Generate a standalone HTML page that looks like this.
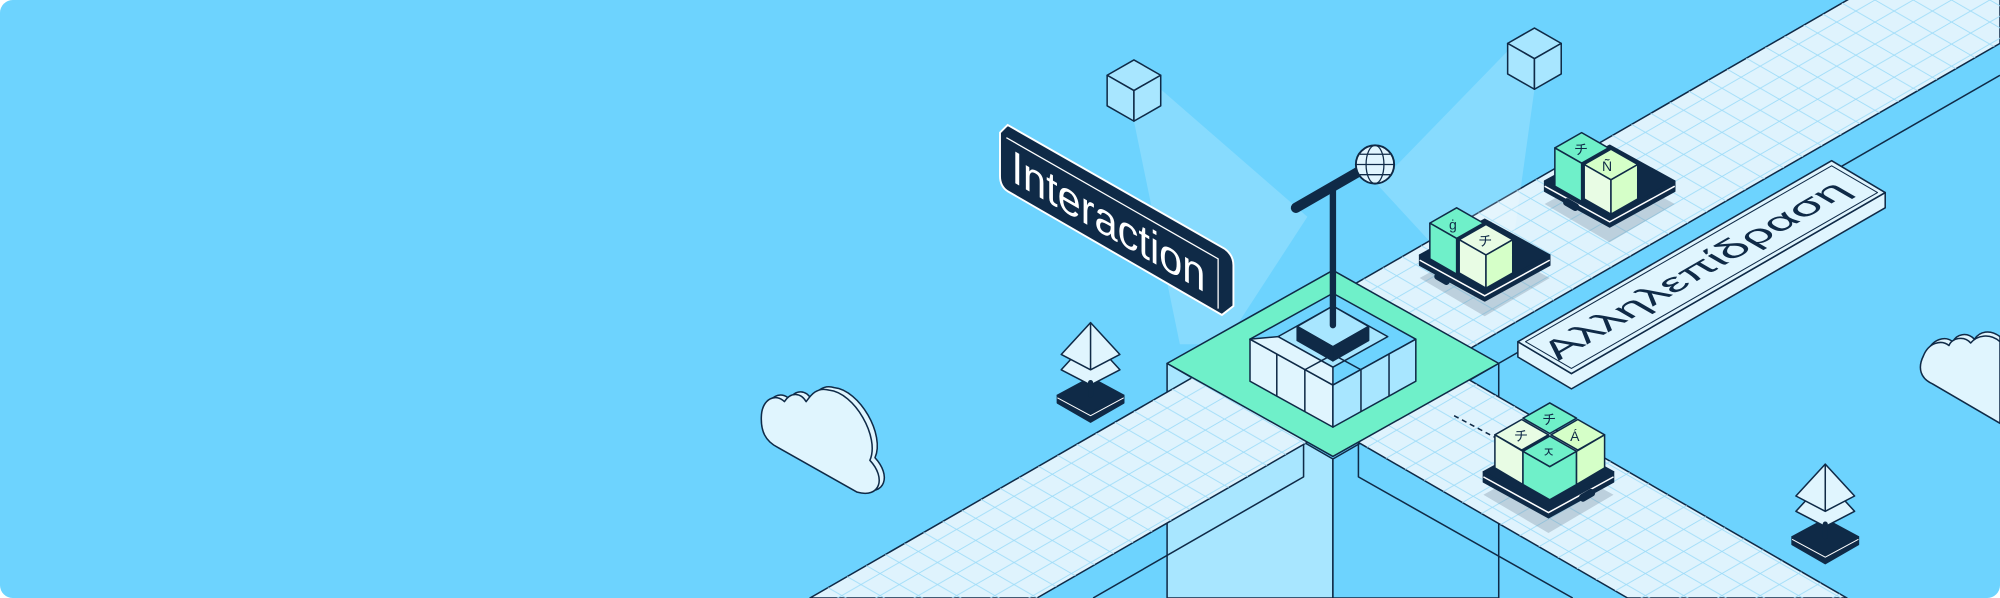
<!DOCTYPE html>
<html><head><meta charset="utf-8"><style>
html,body{margin:0;padding:0;background:#fff;}
svg{display:block;}
</style></head><body>
<svg width="2000" height="598" viewBox="0 0 1568 469" preserveAspectRatio="none" xmlns="http://www.w3.org/2000/svg">
<defs>
<pattern id="grid" patternUnits="userSpaceOnUse" width="30" height="17.3">
<path d="M0,0 L30,17.3 M0,17.3 L30,0" stroke="#9edcf8" stroke-width="0.7" fill="none"/>
</pattern>
</defs>
<rect x="0" y="0" width="1568" height="469" rx="10" fill="#6dd3fe"/>
<g stroke="#0f2a47" stroke-width="1.2" stroke-linejoin="round">
<polygon points="915,285 1045,360 1045,469 915,469" fill="#a8e6ff"/>
<polygon points="1045,360 1175,285 1175,469 1045,469" fill="#6dd3fe"/>
<polygon points="635,469 1568,-69 1568,34 813,469" fill="#dff3fd"/>
<polygon points="635,469 1568,-69 1568,34 813,469" fill="url(#grid)" stroke="none"/>
<polyline points="1022,349 1022,374 857,469" fill="none"/>
<line x1="1175" y1="285" x2="1568" y2="59"/>
<polygon points="1065,248 1152,298 1448,469 1276,469 1065,347" fill="#dff3fd"/>
<polygon points="1065,248 1152,298 1448,469 1276,469 1065,347" fill="url(#grid)" stroke="none"/>
<polyline points="1065,347 1065,374 1233,469" fill="none"/>
<polygon points="889,95 910,70 1025,170 960,270 925,270" fill="#ffffff" fill-opacity="0.18" stroke="none"/>
<polygon points="1182,40 1203,70 1185,200 1140,210 1080,145" fill="#ffffff" fill-opacity="0.18" stroke="none"/>
<polygon points="889,47 910,59 889,71 868,59" fill="#a8e6ff"/>
<polygon points="868,59 889,71 889,95 868,83" fill="#a8e6ff"/>
<polygon points="910,59 889,71 889,95 910,83" fill="#a8e6ff"/>
<polygon points="1203,22 1224,34 1203,46 1182,34" fill="#a8e6ff"/>
<polygon points="1182,34 1203,46 1203,70 1182,58" fill="#a8e6ff"/>
<polygon points="1224,34 1203,46 1203,70 1224,58" fill="#a8e6ff"/>
<polygon points="1045,212 1175,285 1045,358 915,285" fill="#6ff0c9"/>
<polygon points="1045,230 1110,266 1045,302 980,266" fill="#6dd3fe"/>
<polygon points="980,266 1045,302 1045,335 980,299" fill="#e0f5fe"/>
<polygon points="1110,266 1045,302 1045,335 1110,299" fill="#a8e6ff"/>
<polygon points="1045,240 1088,264 1045,288 1002,264" fill="#a8e6ff" />
<polygon points="1002,264 1045,288 1045,302 980,266" fill="#e0f5fe"/>
<line x1="1001" y1="278" x2="1001" y2="311"/>
<line x1="1023" y1="290" x2="1023" y2="323"/>
<line x1="1067" y1="290" x2="1067" y2="323"/>
<line x1="1089" y1="278" x2="1089" y2="311"/>
<polyline points="1023,290 1045,278 1067,290" fill="none"/>
<polygon points="1045,240 1073,256 1045,272 1017,256" fill="#a8e6ff"/>
<polygon points="1017,256 1045,272 1045,283 1017,267" fill="#0f2a47"/>
<polygon points="1073,256 1045,272 1045,283 1073,267" fill="#0f2a47"/>
</g>
<line x1="1045" y1="146" x2="1045" y2="255" stroke="#0f2a47" stroke-width="5" stroke-linecap="round"/>
<line x1="1016" y1="163" x2="1068" y2="133" stroke="#0f2a47" stroke-width="8" stroke-linecap="round"/>
<circle cx="1078" cy="129" r="15" fill="#e0f5fe" stroke="#0f2a47" stroke-width="1.5"/>
<g stroke="#0f2a47" stroke-width="1" fill="none">
<ellipse cx="1078" cy="129" rx="7" ry="15"/><line x1="1063" y1="129" x2="1093" y2="129"/>
<line x1="1066" y1="121" x2="1090" y2="121"/><line x1="1066" y1="137" x2="1090" y2="137"/>
</g>
<path d="M790,98 L960,195 Q967,200 967,208 L967,240 L958,247 L790,150 Q784,146 784,138 L784,104 Z" fill="#0f2a47" stroke="#ffffff" stroke-width="1.5"/>
<path d="M789,108 L955,203 L955,242" fill="none" stroke="#ffffff" stroke-width="1"/>
<text transform="matrix(1,0.577,0,1,793,142)" font-family="Liberation Sans, sans-serif" font-size="36" fill="#ffffff" textLength="152" lengthAdjust="spacingAndGlyphs">Interaction</text>
<g stroke="#0f2a47" stroke-width="1.2" stroke-linejoin="round">
<polygon points="1190,268 1232,293 1478,151 1478,163 1232,305 1190,280" fill="#e0f5fe"/>
<polygon points="1190,268 1436,126 1478,151 1232,293" fill="#e0f5fe"/>
<polygon points="1196,268 1436,130 1472,151 1232,289" fill="none" stroke-width="0.8"/>
</g>
<text transform="matrix(1,-0.577,0.866,0.5,1222,283)" font-family="Liberation Sans, sans-serif" font-size="28" fill="#0f2a47" textLength="230" lengthAdjust="spacingAndGlyphs">Αλληλεπίδραση</text>
<g fill="#7a8fa0" fill-opacity="0.35">
<polygon points="1211,160 1262,132 1313,160 1262,190"/>
<polygon points="1113,218 1164,190 1215,218 1164,248"/>
<polygon points="1163,388 1214,360 1265,388 1214,418"/>
</g>
<g stroke="#0f2a47" stroke-width="1.2" stroke-linejoin="round">
<polygon points="1211,142 1262,114 1313,142 1262,170 " fill="#0f2a47"/>
<polygon points="1211,142 1262,170 1313,142 1313,150 1262,178 1211,150" fill="#0f2a47"/>
<polyline points="1211,146 1262,174 1313,146" fill="none" stroke="#ffffff"/>
<rect x="1226" y="158" width="12" height="5" rx="2" fill="#0f2a47" transform="rotate(30 1232 160)"/>
<polygon points="1113,200 1164,172 1215,200 1164,228" fill="#0f2a47"/>
<polygon points="1113,200 1164,228 1215,200 1215,208 1164,236 1113,208" fill="#0f2a47"/>
<polyline points="1113,204 1164,232 1215,204" fill="none" stroke="#ffffff"/>
<rect x="1125" y="216" width="12" height="5" rx="2" fill="#0f2a47" transform="rotate(30 1131 218)"/>
<polygon points="1163,370 1214,342 1265,370 1214,398" fill="#0f2a47"/>
<polygon points="1163,370 1214,398 1265,370 1265,378 1214,406 1163,378" fill="#0f2a47"/>
<polyline points="1163,374 1214,402 1265,374" fill="none" stroke="#ffffff"/>
<rect x="1238" y="386" width="12" height="5" rx="2" fill="#0f2a47" transform="rotate(-30 1244 388)"/>
<polygon points="1240,104 1261,116 1240,128 1219,116" fill="#6ff0c9"/>
<polygon points="1219,116 1240,128 1240,158 1219,146" fill="#6ff0c9"/>
<polygon points="1263,117 1284,129 1263,141 1242,129" fill="#d5ffc8"/>
<polygon points="1242,129 1263,141 1263,168 1242,156" fill="#e8fce4"/>
<polygon points="1284,129 1263,141 1263,168 1284,156" fill="#d5ffc8"/>
<polygon points="1142,163 1163,175 1142,187 1121,175" fill="#6ff0c9"/>
<polygon points="1121,175 1142,187 1142,215 1121,203" fill="#6ff0c9"/>
<polygon points="1165,176 1186,188 1165,200 1144,188" fill="#e8fce4"/>
<polygon points="1144,188 1165,200 1165,226 1144,214" fill="#e8fce4"/>
<polygon points="1186,188 1165,200 1165,226 1186,214" fill="#d5ffc8"/>
<polygon points="1215,316 1236,328 1215,340 1194,328" fill="#6ff0c9"/>
<polygon points="1193,329 1214,341 1193,353 1172,341" fill="#e8fce4"/>
<polygon points="1237,329 1258,341 1237,353 1216,341" fill="#d5ffc8"/>
<polygon points="1215,342 1236,354 1215,366 1194,354" fill="#6ff0c9"/>
<polygon points="1172,341 1194,354 1194,380 1172,367" fill="#e8fce4"/>
<polygon points="1194,354 1215,366 1236,354 1236,380 1215,392 1194,380" fill="#6ff0c9"/>
<polygon points="1236,354 1258,341 1258,367 1236,380" fill="#d5ffc8"/>
</g>
<g font-family="Liberation Sans, 'Noto Sans CJK JP', sans-serif" font-size="11" fill="#0f2a47">
<text x="1234" y="121">チ</text><text x="1256" y="134">Ñ</text>
<text x="1136" y="180">ġ</text><text x="1159" y="193">チ</text>
<text x="1209" y="333">チ</text><text x="1187" y="346">チ</text><text x="1231" y="346">Á</text><text x="1209" y="359">ㅈ</text>
</g>
<line x1="1140" y1="326" x2="1172" y2="343" stroke="#0f2a47" stroke-width="1.2" stroke-dasharray="4,3"/>
<g stroke="#0f2a47" stroke-width="1.2" stroke-linejoin="round">
<polygon points="829,310 855,296 881,310 855,324" fill="#0f2a47"/>
<polygon points="829,310 855,324 881,310 881,316 855,331 829,316" fill="#0f2a47"/>
<polyline points="829,312 855,326 881,312" fill="none" stroke="#fff" stroke-width="0.8"/>
<polygon points="855,265 878,290 855,302 832,290" fill="#e0f5fe"/>
<polygon points="855,253 878,278 855,290 832,278" fill="#e0f5fe"/>
<line x1="855" y1="253" x2="855" y2="290"/>
<line x1="855" y1="300" x2="855" y2="310" stroke-width="4" stroke-linecap="round"/>
<polygon points="1405,421 1431,407 1457,421 1431,435" fill="#0f2a47"/>
<polygon points="1405,421 1431,435 1457,421 1457,427 1431,442 1405,427" fill="#0f2a47"/>
<polyline points="1405,423 1431,437 1457,423" fill="none" stroke="#fff" stroke-width="0.8"/>
<polygon points="1431,376 1454,401 1431,413 1408,401" fill="#e0f5fe"/>
<polygon points="1431,364 1454,389 1431,401 1408,389" fill="#e0f5fe"/>
<line x1="1431" y1="364" x2="1431" y2="401"/>
<line x1="1431" y1="411" x2="1431" y2="421" stroke-width="4" stroke-linecap="round"/>
<path d="M614,349 L676,384 C694,389 699,373 686,359 C694,341 674,306 654,304 C644,301 639,309 636,313 C632,306 624,305 619,313 C612,306 602,311 601,323 C600,336 604,344 614,349 Z" fill="#e0f5fe"/>
<path d="M610,351 L672,386 C690,391 695,375 682,361 C690,343 670,308 650,306 C640,303 635,311 632,315 C628,308 620,307 615,315 C608,308 598,313 597,325 C596,338 600,346 610,351 Z" fill="#e0f5fe"/>
<path d="M1519,298 L1568,326 L1568,264 C1560,258 1552,260 1548,266 C1542,260 1534,262 1531,268 C1525,263 1515,266 1511,276 C1506,286 1509,294 1519,298 Z" fill="#e0f5fe"/>
<path d="M1515,301 L1568,332 L1568,268 C1560,261 1550,263 1545,269 C1540,263 1530,265 1528,271 C1522,266 1512,269 1508,279 C1503,289 1506,297 1515,301 Z" fill="#e0f5fe"/>
</g>
</svg>
</body></html>
